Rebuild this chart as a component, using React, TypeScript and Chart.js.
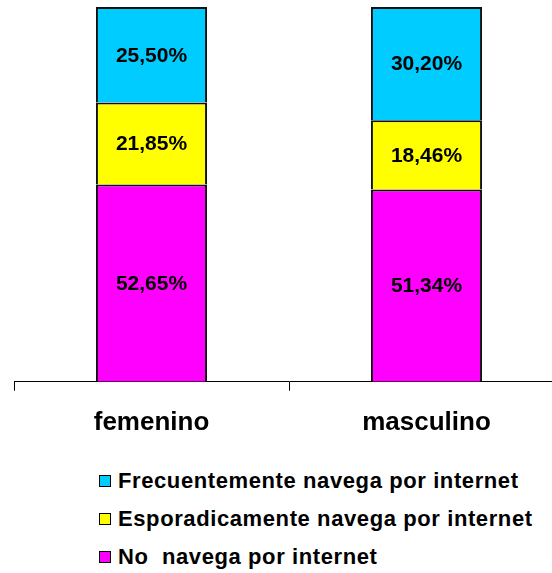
import React, { useEffect, useRef } from "react";
import { Chart, registerables } from "chart.js";

Chart.register(...registerables);

const categories = ["femenino", "masculino"];
const noNavega = [52.65, 51.34];
const esporadica = [21.85, 18.46];
const frecuente = [25.5, 30.2];

const seriesLabels = [
  "No  navega por internet",
  "Esporadicamente navega por internet",
  "Frecuentemente navega por internet",
];
const seriesColors = ["#FF00FF", "#FFFF00", "#00CCFF"];
const seriesValues = [noNavega, esporadica, frecuente];

const FONT = "'Liberation Sans', Arial, Helvetica, sans-serif";

const fmt = (v: number) => v.toFixed(2).replace(".", ",") + "%";

const valueLabels = {
  id: "valueLabels",
  afterDatasetsDraw(chart: any) {
    const ctx = chart.ctx;
    ctx.save();
    ctx.font = `bold 21px ${FONT}`;
    ctx.fillStyle = "#000";
    ctx.textAlign = "center";
    ctx.textBaseline = "middle";
    chart.data.datasets.forEach((ds: any, di: number) => {
      const meta = chart.getDatasetMeta(di);
      meta.data.forEach((el: any, i: number) => {
        const y = (el.y + el.base) / 2;
        ctx.fillText(fmt(ds.data[i]), el.x, y + 1);
      });
    });
    ctx.restore();
  },
};

export default function App() {
  const ref = useRef<HTMLCanvasElement | null>(null);
  useEffect(() => {
    if (!ref.current) return;
    const chart = new Chart(ref.current, {
      type: "bar",
      data: {
        labels: categories,
        datasets: seriesValues.map((vals, i) => ({
          label: seriesLabels[i],
          data: vals,
          backgroundColor: seriesColors[i],
          borderColor: "#111",
          borderWidth: 2,
          borderSkipped: "start",
          categoryPercentage: 1,
          barPercentage: 0.404,
        })),
      },
      options: {
        animation: false,
        responsive: false,
        maintainAspectRatio: false,
        layout: { padding: { top: 7, left: 14, right: 6, bottom: 6 } },
        plugins: { legend: { display: false }, tooltip: { enabled: false } },
        scales: {
          x: {
            stacked: true,
            offset: true,
            grid: {
              offset: true,
              drawOnChartArea: false,
              drawTicks: true,
              tickLength: 9,
              color: "#000",
              lineWidth: 1,
            },
            border: { display: true, color: "#000", width: 1 },
            ticks: {
              color: "#000",
              padding: 16,
              font: { family: FONT, size: 26, weight: "bold" },
            },
          },
          y: {
            stacked: true,
            min: 0,
            max: 100,
            display: false,
          },
        },
      },
      plugins: [valueLabels],
    });
    return () => chart.destroy();
  }, []);

  const legendOrder = [2, 1, 0];
  return (
    <div
      style={{
        position: "absolute",
        left: 0,
        top: 0,
        width: 552,
        height: 573,
        overflow: "hidden",
        background: "#fff",
      }}
    >
      <canvas ref={ref} width={570} height={460} style={{ display: "block" }} />
      <div style={{ position: "absolute", left: 99, top: 462 }}>
        {legendOrder.map((i) => (
          <div
            key={i}
            style={{
              display: "flex",
              alignItems: "center",
              height: 38,
              fontFamily: FONT,
              fontWeight: "bold",
              fontSize: 22,
              letterSpacing: "0.6px",
              color: "#000",
              whiteSpace: "pre",
            }}
          >
            <span
              style={{
                display: "inline-block",
                width: 10,
                height: 10,
                border: "1.5px solid #000",
                background: seriesColors[i],
                marginRight: 7,
              }}
            />
            {seriesLabels[i]}
          </div>
        ))}
      </div>
    </div>
  );
}
